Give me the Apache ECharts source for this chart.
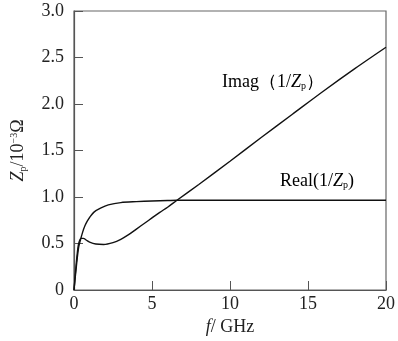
<!DOCTYPE html>
<html>
<head>
<meta charset="utf-8">
<script src="https://cdn.jsdelivr.net/npm/echarts@6/dist/echarts.min.js"></script>
<style>
  html, body { margin: 0; padding: 0; background: #fff; }
  #chart { width: 398px; height: 341px; }
</style>
</head>
<body>
<div id="chart"></div>
<script>
// frequency (GHz) and admittance curves
const realFreq = [0, 0.1, 0.2, 0.3, 0.4, 0.55, 0.7, 0.85, 1.0, 1.3, 1.7, 2.2, 3.0, 4.0, 5.0, 6.0, 6.6, 10, 15, 20]
const realVals = [0, 0.17, 0.33, 0.46, 0.53, 0.62, 0.69, 0.74, 0.78, 0.84, 0.88, 0.915, 0.94, 0.95, 0.957, 0.962, 0.965, 0.965, 0.965, 0.965]
const imagFreq = [0, 0.1, 0.2, 0.3, 0.45, 0.6, 0.8, 1.0, 1.4, 1.9, 2.5, 3.0, 3.5, 4.0, 4.5, 5.0, 5.5, 6.0, 6.6, 8, 10, 12, 14, 16, 18, 20]
const imagVals = [0, 0.2, 0.38, 0.5, 0.555, 0.555, 0.535, 0.515, 0.495, 0.49, 0.51, 0.545, 0.595, 0.655, 0.715, 0.775, 0.835, 0.89, 0.965, 1.135, 1.385, 1.64, 1.89, 2.14, 2.38, 2.61]
const xTicks = [0, 5, 10, 15, 20]
const yTicks = [0, 0.5, 1.0, 1.5, 2.0, 2.5, 3.0]

const serif = '"Liberation Serif", "DejaVu Serif", serif'
const chart = echarts.init(document.getElementById('chart'))

const pairs = (xs, ys) => xs.map((x, i) => [x, ys[i]])
const rich = {
  n: { fontFamily: serif, fontSize: 18, color: '#222' },
  i: { fontFamily: serif, fontSize: 18, fontStyle: 'italic', color: '#222' },
  sub: { fontFamily: serif, fontSize: 10, color: '#222', verticalAlign: 'bottom', padding: [9, 0, 0, 0] },
  sup: { fontFamily: serif, fontSize: 10, color: '#222', verticalAlign: 'top', padding: [0, 0, 9, 0] }
}

const option = {
  animation: false,
  grid: { left: 74, right: 9, top: 11, bottom: 48, show: true, borderColor: '#666', borderWidth: 1.2 },
  xAxis: {
    type: 'value', min: 0, max: 20, interval: 5,
    axisLine: { lineStyle: { color: '#555', width: 1.2 } },
    axisTick: { inside: true, length: 9, lineStyle: { color: '#555' } },
    splitLine: { show: false },
    axisLabel: { fontFamily: serif, fontSize: 18, color: '#222', margin: 5,
      formatter: v => xTicks.includes(v) ? String(v) : '' },
    name: '{i|f}{n|/ GHz}', nameLocation: 'middle', nameGap: 28,
    nameTextStyle: { rich: rich }
  },
  yAxis: {
    type: 'value', min: 0, max: 3, interval: 0.5,
    axisLine: { lineStyle: { color: '#555', width: 1.2 } },
    axisTick: { inside: true, length: 9, lineStyle: { color: '#555' } },
    splitLine: { show: false },
    axisLabel: { fontFamily: serif, fontSize: 18, color: '#222', margin: 10,
      formatter: v => v === 0 ? '0' : (yTicks.includes(v) ? v.toFixed(1) : '') },
    name: '{i|Z}{sub|p}{n|/10}{sup|−3}{n|Ω}', nameLocation: 'middle', nameGap: 46,
    nameTextStyle: { rich: rich }
  },
  graphic: [
    { type: 'text', left: 222, top: 73, style: { text: '{n|Imag（1/}{i|Z}{sub|p}{n|）}', rich: rich } },
    { type: 'text', left: 280, top: 172, style: { text: '{n|Real(1/}{i|Z}{sub|p}{n|)}', rich: rich } }
  ],
  series: [
    { name: 'Real', type: 'line', smooth: 0.3, showSymbol: false, data: pairs(realFreq, realVals),
      lineStyle: { color: '#111', width: 1.4 } },
    { name: 'Imag', type: 'line', smooth: 0.3, showSymbol: false, data: pairs(imagFreq, imagVals),
      lineStyle: { color: '#111', width: 1.4 } }
  ]
}
chart.setOption(option)
</script>
</body>
</html>
